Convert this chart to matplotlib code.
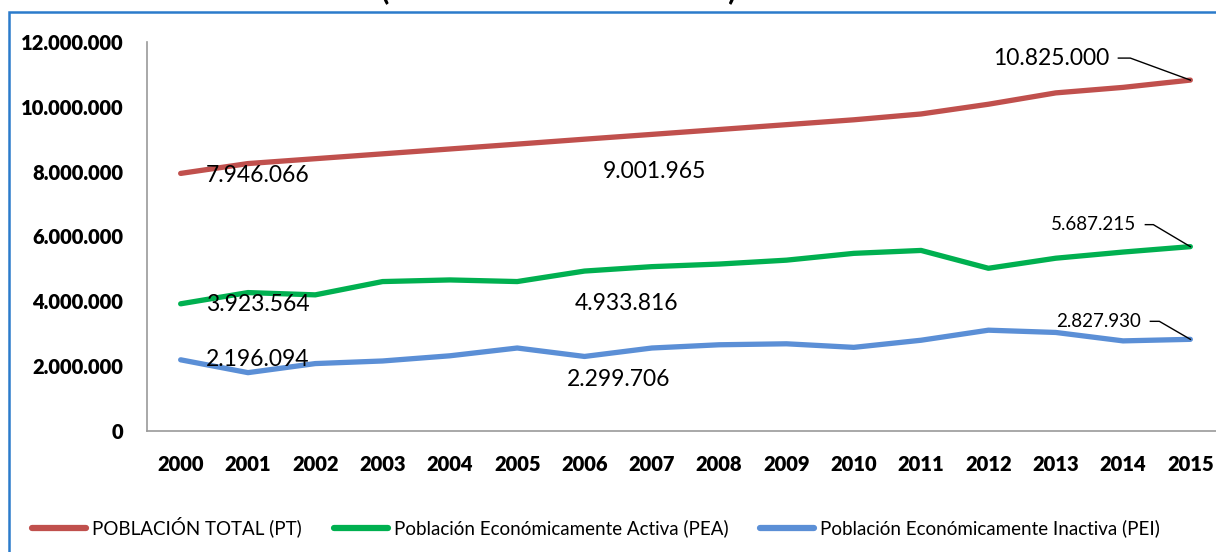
import matplotlib
matplotlib.use("Agg")
import matplotlib.pyplot as plt
from matplotlib.lines import Line2D
from matplotlib.patches import Rectangle
from matplotlib.ticker import FuncFormatter, MultipleLocator

years = [str(y) for y in range(2000, 2016)]
pt = [7946066, 8250000, 8400000, 8550000, 8700000, 8850000, 9001965, 9150000,
      9300000, 9450000, 9600000, 9780000, 10080000, 10430000, 10600000, 10825000]
pea = [3923564, 4270000, 4200000, 4610000, 4660000, 4610000, 4933816, 5070000,
       5150000, 5270000, 5480000, 5570000, 5020000, 5330000, 5520000, 5687215]
pei = [2196094, 1800000, 2080000, 2160000, 2320000, 2560000, 2299706, 2560000,
       2660000, 2690000, 2580000, 2800000, 3110000, 3040000, 2780000, 2827930]
series_names = ["POBLACIÓN TOTAL (PT)",
                "Población Económicamente Activa (PEA)",
                "Población Económicamente Inactiva (PEI)"]
colors = ["#C0504D", "#00B050", "#5B8FD6"]
title_text = "(En número de habitantes)"

W, H = 1216, 552
fig = plt.figure(figsize=(W / 100, H / 100), dpi=100)
font = ["Lato", "DejaVu Sans"]

# outer border
fig.patches.append(Rectangle((9 / W, -0.1), 1.2, 1 - 12 / H + 0.1, transform=fig.transFigure,
                             fill=False, edgecolor="#2B7BCB", linewidth=1.8))
fig.text(559 / W, 1 + 1 / H, title_text, ha="center", va="baseline",
         fontsize=22, fontweight="bold", family=font)

# axes: left at x=147, top at y=42, bottom at y=431, right at ~1224
ax = fig.add_axes([147 / W, 1 - 431 / H, (1224 - 147) / W, (431 - 42) / H])
x = list(range(len(years)))
for vals, c, n in zip([pt, pea, pei], colors, series_names):
    ax.plot(x, vals, color=c, linewidth=3.8, solid_capstyle="round", label=n)

ax.set_xlim(-0.5, len(years) - 0.5)
ax.set_ylim(0, 12000000)
ax.yaxis.set_major_locator(MultipleLocator(2000000))
ax.yaxis.set_major_formatter(FuncFormatter(lambda v, p: f"{int(v):,}".replace(",", ".")))
ax.set_xticks(x)
ax.set_xticklabels(years)
for lab in ax.get_xticklabels() + ax.get_yticklabels():
    lab.set_fontweight("heavy")
    lab.set_fontsize(14.5)
    lab.set_family(font)
ax.tick_params(axis="y", length=0, pad=17)
ax.tick_params(axis="x", length=0, pad=17)
for s in ["top", "right"]:
    ax.spines[s].set_visible(False)
for s in ["left", "bottom"]:
    ax.spines[s].set_color("#9A9A9A")
    ax.spines[s].set_linewidth(1.2)

LS = 16.5

def lab(i, vals, dx, dy, ha="left"):
    v = vals[i]
    ax.annotate(f"{v:,}".replace(",", "."), (i, v), xytext=(dx, -dy),
                textcoords="offset pixels", ha=ha, va="center",
                fontsize=LS, family=font, color="black")

lab(0, pt, 25, 2)
lab(0, pea, 25, 1)
lab(0, pei, 25, 0)
lab(6, pt, 70, 32, ha="center")
lab(6, pea, 42, 32, ha="center")
lab(6, pei, 34, 23, ha="center")

fig.canvas.draw()

def leader(i, vals, x0, x1, dy, size):
    px, py = ax.transData.transform((i, vals[i]))
    ty = py + dy
    fig.add_artist(Line2D([px + x0, px + x1, px], [ty, ty, py], transform=None,
                          color="black", linewidth=1.0))
    ax.annotate(f"{vals[i]:,}".replace(",", "."), (i, vals[i]),
                xytext=(x0 - 9, dy), textcoords="offset pixels",
                ha="right", va="center", fontsize=size, family=font)

leader(15, pt, -72, -60, 22, LS)
leader(15, pea, -45, -37, 22, 13.5)
leader(15, pei, -40, -31, 18, 13.5)

handles = [Line2D([0], [0], color=c, linewidth=4.5, solid_capstyle="round") for c in colors]
fig.legend(handles, series_names, loc="center left", bbox_to_anchor=(15 / W, 1 - 527 / H),
           ncol=3, frameon=False, handlelength=2.9, handletextpad=0.3,
           columnspacing=1.7, prop={"family": font, "size": 13.5})

fig.savefig("out.png", dpi=100)
